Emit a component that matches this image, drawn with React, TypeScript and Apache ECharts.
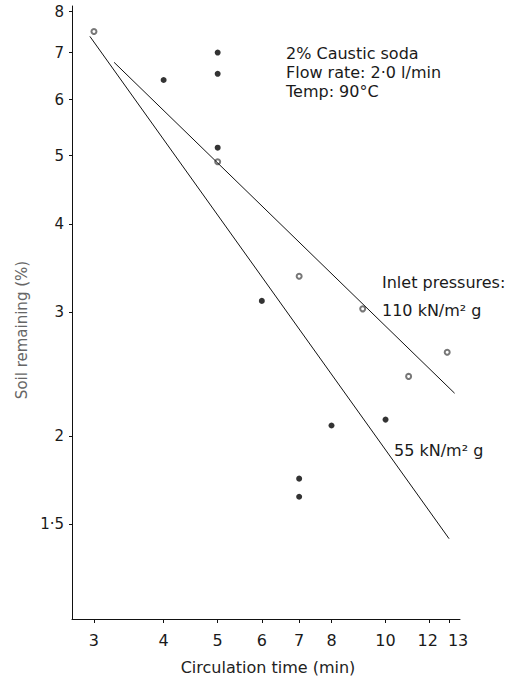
import React, { useEffect, useRef } from "react";
import * as echarts from "echarts";

// Tick values and labels
const xTicks = [3, 4, 5, 6, 7, 8, 10, 12, 13];
const yTicks = [1.5, 2, 3, 4, 5, 6, 7, 8];
const yTickLabels = ["1·5", "2", "3", "4", "5", "6", "7", "8"];

// 110 kN/m² g (open circles)
const time110 = [3.0, 5.0, 7.0, 9.1, 11.0, 12.9];
const soil110 = [7.5, 4.9, 3.37, 3.03, 2.43, 2.63];
// 55 kN/m² g (filled circles)
const time55 = [4.0, 5.0, 5.0, 5.0, 6.0, 7.0, 7.0, 8.0, 10.0];
const soil55 = [6.4, 7.0, 6.53, 5.13, 3.11, 1.74, 1.64, 2.07, 2.11];
// Fitted lines
const fitTime110 = [3.26, 13.3];
const fitSoil110 = [6.78, 2.3];
const fitTime55 = [2.95, 13.0];
const fitSoil55 = [7.38, 1.43];

const xRange = [2.74, 13.6];
const yRange = [1.1, 8.15];

const L = Math.log10;
const pairs = (xs: number[], ys: number[]) => xs.map((x, i) => [L(x), L(ys[i])]);

const FONT = "DejaVu Sans";

export default function App() {
  const ref = useRef<HTMLDivElement>(null);
  useEffect(() => {
    if (!ref.current) return;
    const chart = echarts.init(ref.current, null, { renderer: "svg" });
    const findIndex = (v: number, ticks: number[]) => {
      for (let i = 0; i < ticks.length; i++) {
        if (Math.abs(L(ticks[i]) - v) < 1e-6) return i;
      }
      return -1;
    };
    const textStyle = { fontFamily: FONT, fontSize: 15, color: "#1a1a1a" };
    chart.setOption({
      animation: false,
      backgroundColor: "#ffffff",
      grid: { left: 72, right: 53, top: 6, bottom: 61 },
      xAxis: {
        type: "value",
        min: L(xRange[0]),
        max: L(xRange[1]),
        axisLine: { show: true, lineStyle: { color: "#111", width: 1 } },
        axisTick: {
          show: true,
          length: 4,
          customValues: xTicks.map(L),
          lineStyle: { color: "#111" },
        },
        axisLabel: {
          ...textStyle,
          fontSize: 16,
          margin: 13,
          customValues: xTicks.map(L),
          formatter: (v: number) => {
            const i = findIndex(v, xTicks);
            if (i < 0) return "";
            const t = xTicks[i];
            if (t === 13) return "{r|13}";
            if (t === 12) return "{l|12}";
            return String(t);
          },
          rich: {
            r: { fontFamily: FONT, fontSize: 16, color: "#1a1a1a", padding: [0, 0, 0, 18] },
            l: { fontFamily: FONT, fontSize: 16, color: "#1a1a1a", padding: [0, 4, 0, 0] },
          },
        },
        splitLine: { show: false },
      },
      yAxis: {
        type: "value",
        min: L(yRange[0]),
        max: L(yRange[1]),
        axisLine: { show: true, lineStyle: { color: "#111", width: 1 } },
        axisTick: {
          show: true,
          length: 3,
          customValues: yTicks.map(L),
          lineStyle: { color: "#111" },
        },
        axisLabel: {
          ...textStyle,
          margin: 8,
          customValues: yTicks.map(L),
          formatter: (v: number) => {
            const i = findIndex(v, yTicks);
            return i < 0 ? "" : yTickLabels[i];
          },
        },
        splitLine: { show: false },
      },
      series: [
        {
          name: "110 kN/m² g",
          type: "scatter",
          symbol: "emptyCircle",
          symbolSize: 5,
          itemStyle: { color: "#555", borderColor: "#555", borderWidth: 0.8 },
          data: pairs(time110, soil110),
        },
        {
          name: "55 kN/m² g",
          type: "scatter",
          symbol: "circle",
          symbolSize: 6,
          itemStyle: { color: "#000" },
          data: pairs(time55, soil55),
        },
        {
          name: "fit 110",
          type: "line",
          showSymbol: false,
          symbol: "none",
          lineStyle: { color: "#111", width: 1 },
          data: pairs(fitTime110, fitSoil110),
        },
        {
          name: "fit 55",
          type: "line",
          showSymbol: false,
          symbol: "none",
          lineStyle: { color: "#111", width: 1 },
          data: pairs(fitTime55, fitSoil55),
        },
      ],
      graphic: [
        { type: "text", x: 22, y: 330, rotation: Math.PI / 2, style: { text: "Soil remaining (%)", font: `15px "${FONT}"`, fill: "#666", align: "center", verticalAlign: "middle" } },
        { type: "text", x: 268, y: 667, style: { text: "Circulation time (min)", font: `16px "${FONT}"`, fill: "#222", align: "center", verticalAlign: "middle" } },
        { type: "text", x: 286, y: 53, style: { text: "2% Caustic soda", font: `16px "${FONT}"`, fill: "#1a1a1a", verticalAlign: "middle" } },
        { type: "text", x: 286, y: 72, style: { text: "Flow rate: 2·0 l/min", font: `16px "${FONT}"`, fill: "#1a1a1a", verticalAlign: "middle" } },
        { type: "text", x: 286, y: 91, style: { text: "Temp: 90°C", font: `16px "${FONT}"`, fill: "#1a1a1a", verticalAlign: "middle" } },
        { type: "text", x: 382, y: 282, style: { text: "Inlet pressures:", font: `16px "${FONT}"`, fill: "#1a1a1a", verticalAlign: "middle" } },
        { type: "text", x: 382, y: 310, style: { text: "110 kN/m² g", font: `16px "${FONT}"`, fill: "#1a1a1a", verticalAlign: "middle" } },
        { type: "text", x: 394, y: 450, style: { text: "55 kN/m² g", font: `16px "${FONT}"`, fill: "#1a1a1a", verticalAlign: "middle" } },
      ],
    });
    return () => chart.dispose();
  }, []);
  return (
    <div
      ref={ref}
      style={{ position: "fixed", left: 0, top: 0, width: 513, height: 680, background: "#fff" }}
    />
  );
}
